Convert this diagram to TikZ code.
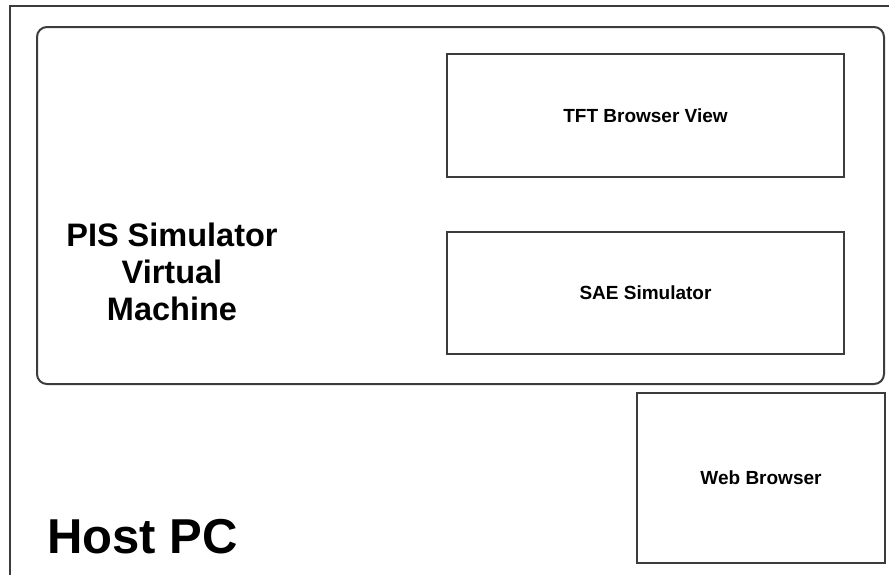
\documentclass[tikz,border=0pt]{standalone}
\usepackage{fontspec}
\setmainfont{Liberation Sans}
\definecolor{edgegray}{HTML}{3C3C3C}
\tikzset{
    box/.style={draw=edgegray, line width=2pt, inner sep=0, font=\bfseries\fontsize{19}{23}\selectfont},
}

\begin{document}
\begin{tikzpicture}[x=1pt,y=-1pt]
                \newcommand{\linew}{2pt}

                % Fix page size
                \path[use as bounding box, clip] (0,0) rectangle (889,574);

                % Draw host frame
                \draw[edgegray, line width=\linew] (10,600) -- (10,6) -- (900,6);
                \node[anchor=base west, inner sep=0, font=\bfseries\fontsize{49}{56}\selectfont] (host) at (47,553) {Host PC};

                % Draw virtual machine
                \node[box, rounded corners=10pt, minimum width=847pt, minimum height=357pt] (vm) at (460.5,205.5) {};
                \node[align=center, inner sep=0, font=\bfseries\fontsize{32.5}{37}\selectfont] (vmlabel) at (172,272) {PIS Simulator\\Virtual\\Machine};

                % Draw inner boxes
                \node[box, minimum width=397pt, minimum height=123pt] (tft) at (645.5,115.5) {TFT Browser View};
                \node[box, minimum width=397pt, minimum height=122pt] (sae) at (645.5,293) {SAE Simulator};
                \node[box, minimum width=248pt, minimum height=170pt] (web) at (761,478) {Web Browser};
            \end{tikzpicture}
\end{document}
